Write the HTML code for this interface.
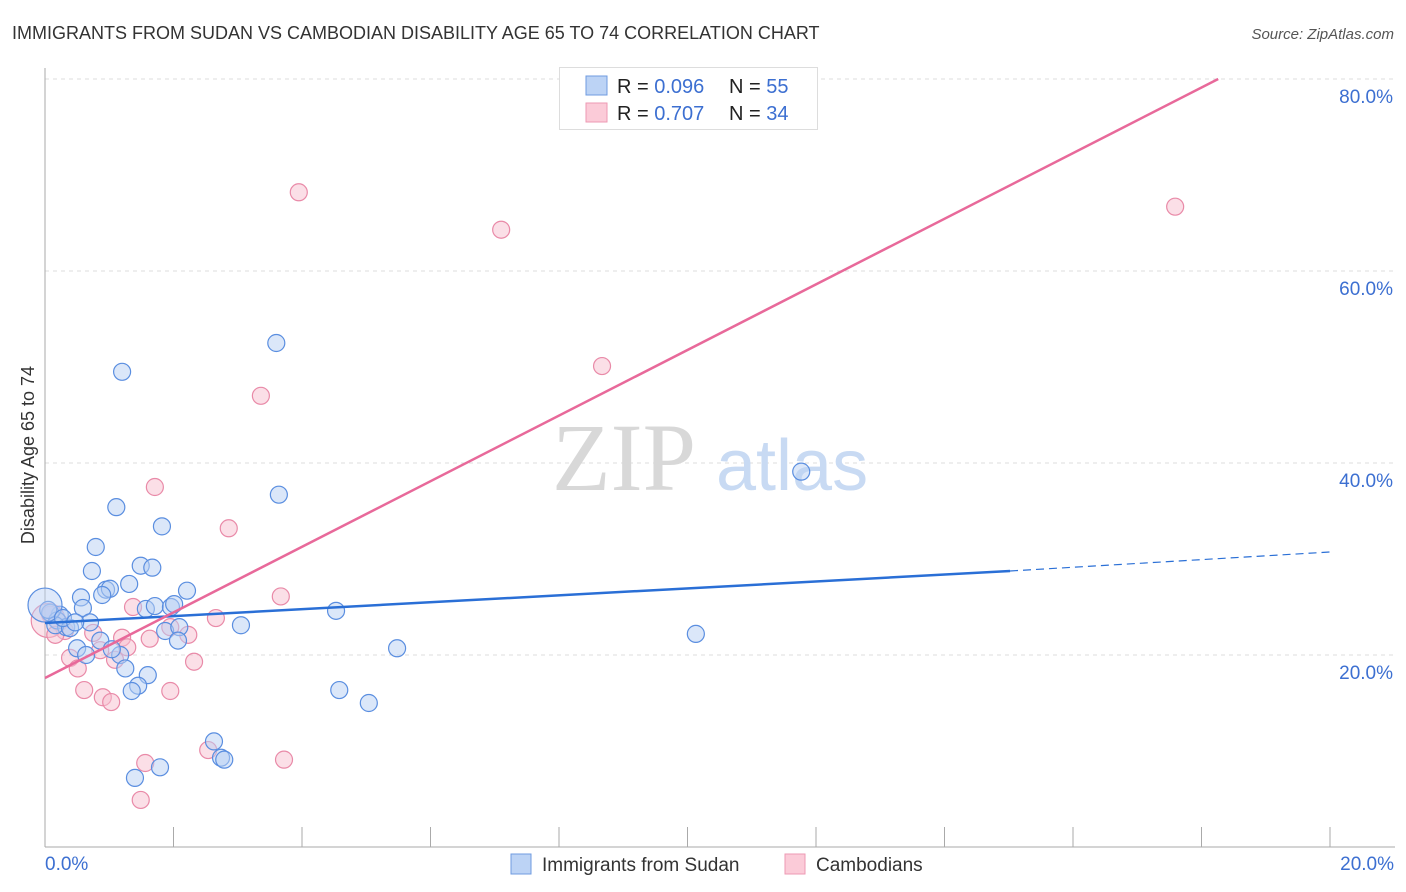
<!DOCTYPE html>
<html><head><meta charset="utf-8"><style>
body{margin:0;background:#fff;font-family:"Liberation Sans",sans-serif;}
svg{display:block}
</style></head><body>
<svg id="chart" width="1406" height="892">
<text x="12" y="39" font-size="18" fill="#333">IMMIGRANTS FROM SUDAN VS CAMBODIAN DISABILITY AGE 65 TO 74 CORRELATION CHART</text>
<text x="1394" y="39" font-size="15" fill="#555" font-style="italic" text-anchor="end">Source: ZipAtlas.com</text>
<g id="grid"></g>
<g>
<text x="552" y="490" font-family="Liberation Serif,serif" font-size="96" fill="#d8d8d8">ZIP</text>
<text x="716" y="490" font-size="72" fill="#c8daf3">atlas</text>
</g>
<text transform="translate(34,455) rotate(-90)" font-size="18" fill="#333" text-anchor="middle">Disability Age 65 to 74</text>
<g id="marks"></g>
<g>
<rect x="559.5" y="67.5" width="258" height="62" fill="#fff" stroke="#ddd"/>
<rect x="586" y="76" width="21" height="19" fill="#bcd3f5" stroke="#6f9be0"/>
<rect x="586" y="103" width="21" height="19" fill="#fbcbd8" stroke="#ee9ab3"/>
<text x="617" y="93" font-size="20" fill="#222">R = <tspan fill="#3c6fd1">0.096</tspan><tspan x="729">N = </tspan><tspan fill="#3c6fd1">55</tspan></text>
<text x="617" y="120" font-size="20" fill="#222">R = <tspan fill="#3c6fd1">0.707</tspan><tspan x="729">N = </tspan><tspan fill="#3c6fd1">34</tspan></text>
</g>
<g>
<rect x="511" y="854" width="20" height="20" fill="#bcd3f5" stroke="#6f9be0"/>
<text x="542" y="871" font-size="19" fill="#333">Immigrants from Sudan</text>
<rect x="785" y="854" width="20" height="20" fill="#fbcbd8" stroke="#ee9ab3"/>
<text x="816" y="871" font-size="19" fill="#333">Cambodians</text>
</g>
</svg>
<script>
const xTicks=[0,2,4,6,8,10,12,14,16,18,20];
const yTicks=[20,40,60,80];
const yTickLabels=["20.0%","40.0%","60.0%","80.0%"];
const xTickLabels=["0.0%","20.0%"];
const sudanX=[1.20,3.60,1.11,3.64,1.82,0.79,11.77,0.73,1.49,1.67,1.31,0.95,1.01,0.56,0.89,2.21,0.59,1.57,1.71,1.96,2.01,4.53,3.05,0.70,0.23,0.08,0.19,0.33,1.87,2.09,2.07,0.86,1.17,5.48,10.13,0.50,0.64,1.04,1.25,1.60,1.45,1.35,4.58,5.04,2.63,2.74,2.79,1.79,1.40,0.05,0.16,0.39,0.0,0.28,0.47];
const sudanY=[49.5,52.5,35.4,36.7,33.4,31.25,39.1,28.75,29.3,29.1,27.4,26.8,26.9,26.0,26.25,26.7,24.9,24.8,25.1,25.0,25.3,24.6,23.1,23.4,24.2,24.4,23.6,22.9,22.5,22.9,21.5,21.5,20.0,20.7,22.2,20.7,20.0,20.6,18.6,17.9,16.8,16.25,16.35,15.0,11.0,9.3,9.1,8.3,7.2,24.7,23.1,22.8,25.2,23.85,23.4];
const cambX=[3.95,7.10,17.59,8.67,3.36,1.71,2.86,3.67,1.37,2.66,2.23,0.75,0.22,0.08,0.31,1.20,1.63,1.28,1.95,0.39,0.86,1.09,0.51,2.32,0.61,0.90,1.03,1.95,2.54,3.72,1.56,1.49,0.05,0.16];
const cambY=[68.2,64.3,66.7,50.1,47.0,37.5,33.2,26.1,25.0,23.85,22.1,22.3,23.4,24.2,22.5,21.8,21.7,20.8,22.9,19.7,20.5,19.5,18.6,19.3,16.35,15.6,15.1,16.25,10.1,9.1,8.75,4.9,23.6,22.1];
const sudanLine=[[0,23.33],[15.02,28.75],[20,30.73]];
const cambLine=[[0,17.6],[18.26,80]];
const X=v=>45+v*64.25, Y=v=>847-v*9.6;
const NS="http://www.w3.org/2000/svg";
const svgEl=document.getElementById('chart'), gridEl=document.getElementById('grid'), marksEl=document.getElementById('marks');
function mk(t,a,p){const e=document.createElementNS(NS,t);for(const k in a)e.setAttribute(k,a[k]);(p||svgEl).appendChild(e);return e;}
yTicks.forEach((t,i)=>{
 const l=mk('line',{x1:45,x2:1395,y1:Y(t),y2:Y(t),stroke:'#ddd','stroke-dasharray':'4,4'},gridEl);
 
 
 const tx=mk('text',{x:1393,y:Y(t)+24,'font-size':19,fill:'#3c6fd1','text-anchor':'end'},gridEl);
 tx.textContent=yTickLabels[i];
 
 
});
const topLine=mk('line',{x1:45,x2:1395,y1:79,y2:79,stroke:'#ddd','stroke-dasharray':'4,4'},gridEl);


const yAxisLine=mk('line',{x1:45,x2:45,y1:68,y2:847,stroke:'#aaa'},gridEl);


const xAxisLine=mk('line',{x1:45,x2:1395,y1:847,y2:847,stroke:'#aaa'},gridEl);


xTicks.forEach(t=>{if(t===0)return;
 const l=mk('line',{x1:X(t),x2:X(t),y1:827,y2:847,stroke:'#aaa'},gridEl);
 
 
});
[[0,'start',45],[1,'end',1394]].forEach(([i,a,x])=>{
 const tx=mk('text',{x:x,y:870,'font-size':19,fill:'#3c6fd1','text-anchor':a},gridEl);
 tx.textContent=xTickLabels[i];
 
 
});
function dots(xs,ys,fill,stroke,name){
 xs.forEach((x,i)=>{
  const big=(x===0||(x===0.05&&name==='cambodian'));
  const c=mk('circle',{cx:X(x),cy:Y(ys[i]),r:big?17:8.5,fill:fill,'fill-opacity':big?0.45:0.5,stroke:stroke,'stroke-width':1.2},marksEl);
  
  
 });
}
dots(cambX,cambY,'#f7c0d0','#e98aa8','cambodian');
dots(sudanX,sudanY,'#b7cff3','#5a8ee0','sudan');
const b1=mk('line',{x1:X(sudanLine[0][0]),y1:Y(sudanLine[0][1]),x2:X(sudanLine[1][0]),y2:Y(sudanLine[1][1]),stroke:'#2a6fd6','stroke-width':2.5},marksEl);


const b2=mk('line',{x1:X(sudanLine[1][0]),y1:Y(sudanLine[1][1]),x2:X(sudanLine[2][0]),y2:Y(sudanLine[2][1]),stroke:'#2a6fd6','stroke-width':1.2,'stroke-dasharray':'8,5'},marksEl);


const p1=mk('line',{x1:X(cambLine[0][0]),y1:Y(cambLine[0][1]),x2:X(cambLine[1][0]),y2:Y(cambLine[1][1]),stroke:'#e8699a','stroke-width':2.5},marksEl);


</script>
</body></html>
